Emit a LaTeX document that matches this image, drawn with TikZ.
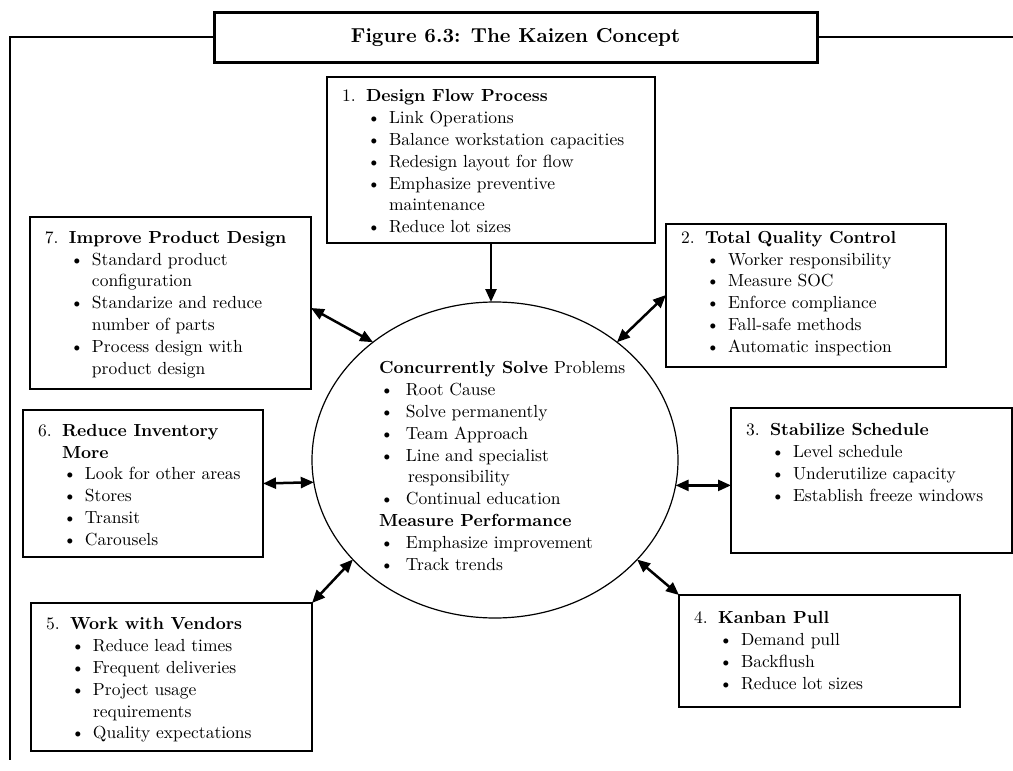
\documentclass[tikz,border=0pt]{standalone}
\usepackage{fontspec}
\setmainfont{lmroman10-regular.otf}[BoldFont=lmroman10-bold.otf]
\usetikzlibrary{shapes.geometric,arrows.meta,calc}
\newcommand\hdl[2]{\makebox[24pt][l]{#1}\textbf{#2}}
\newcommand\hcont[1]{\hspace*{24pt}\textbf{#1}}
\newcommand\itm[1]{\hspace*{25pt}\makebox[22pt][l]{\textbullet}#1}
\newcommand\icont[1]{\hspace*{47pt}#1}
\newcommand\ebl[1]{\hspace*{1pt}\makebox[26pt][l]{\textbullet}#1}
\newcommand\econt[1]{\hspace*{29pt}#1}
\tikzset{
  box/.style={draw, line width=1.5pt, inner sep=0pt, outer sep=0pt, anchor=north west},
  txt/.style={anchor=north west, inner sep=0pt, outer sep=0pt, align=left, font=\fontsize{17.5}{21.8}\selectfont},
  tip/.tip={Triangle[length=13pt,width=11pt]},
  arr/.style={line width=2.5pt, tip-tip},
  arrone/.style={line width=2.5pt, -tip},
  frame/.style={line width=2.5pt},
  titlebox/.style={draw, line width=3pt, inner sep=0pt, outer sep=0pt, minimum width=603pt, minimum height=50pt, font=\bfseries\fontsize{20.2}{24}\selectfont},
  ellbox/.style={draw, ellipse, line width=1.2pt, inner sep=0pt, outer sep=0pt, minimum width=366pt, minimum height=316pt}
}
\begin{document}
\begin{tikzpicture}[x=1pt,y=-1pt]
\useasboundingbox (0,0) rectangle (1013,771);
% title and frame
\node[titlebox] (title) at (515.5,37) {Figure 6.3: The Kaizen Concept};
\coordinate (fbl) at (10,760);
\coordinate (fr) at (1013,37);
\draw[frame] (title.west) -- (title.west -| fbl) -- (fbl);
\draw[frame] (title.east) -- (fr);
% central ellipse
\node[ellbox] (ell) at (495,460) {};
\node[txt] (te) at (379,358.7) {\strut\textbf{Concurrently Solve} Problems\\
 \ebl{Root Cause}\\
 \ebl{Solve permanently}\\
 \ebl{Team Approach}\\
 \ebl{Line and specialist}\\
 \econt{responsibility}\\
 \ebl{Continual education}\\
 \textbf{Measure Performance}\\
 \ebl{Emphasize improvement}\\
 \ebl{Track trends}};
% box 1
\node[box, minimum width=328pt, minimum height=166pt] (b1) at (327,77) {};
\node[txt] (t1) at (342,86.7) {\strut\hdl{1.}{Design Flow Process}\\
 \itm{Link Operations}\\
 \itm{Balance workstation capacities}\\
 \itm{Redesign layout for flow}\\
 \itm{Emphasize preventive}\\
 \icont{maintenance}\\
 \itm{Reduce lot sizes}};
% box 2
\node[box, minimum width=280pt, minimum height=143pt] (b2) at (666,224) {};
\node[txt] (t2) at (681,228) {\strut\hdl{2.}{Total Quality Control}\\
 \itm{Worker responsibility}\\
 \itm{Measure SOC}\\
 \itm{Enforce compliance}\\
 \itm{Fall-safe methods}\\
 \itm{Automatic inspection}};
% box 7
\node[box, minimum width=281pt, minimum height=172pt] (b7) at (30,217) {};
\node[txt] (t7) at (45,228) {\strut\hdl{7.}{Improve Product Design}\\
 \itm{Standard product}\\
 \icont{configuration}\\
 \itm{Standarize and reduce}\\
 \icont{number of parts}\\
 \itm{Process design with}\\
 \icont{product design}};
% box 6
\node[box, minimum width=240pt, minimum height=147pt] (b6) at (23,410) {};
\node[txt] (t6) at (38,421) {\strut\hdl{6.}{Reduce Inventory}\\
 \hcont{More}\\
 \itm{Look for other areas}\\
 \itm{Stores}\\
 \itm{Transit}\\
 \itm{Carousels}};
% box 3
\node[box, minimum width=281pt, minimum height=145pt] (b3) at (731,408) {};
\node[txt] (t3) at (746,420.7) {\strut\hdl{3.}{Stabilize Schedule}\\
 \itm{Level schedule}\\
 \itm{Underutilize capacity}\\
 \itm{Establish freeze windows}};
% box 5
\node[box, minimum width=281pt, minimum height=148pt] (b5) at (31,603) {};
\node[txt] (t5) at (46,614.7) {\strut\hdl{5.}{Work with Vendors}\\
 \itm{Reduce lead times}\\
 \itm{Frequent deliveries}\\
 \itm{Project usage}\\
 \icont{requirements}\\
 \itm{Quality expectations}};
% box 4
\node[box, minimum width=281pt, minimum height=112pt] (b4) at (679,595) {};
\node[txt] (t4) at (694,608.7) {\strut\hdl{4.}{Kanban Pull}\\
 \itm{Demand pull}\\
 \itm{Backflush}\\
 \itm{Reduce lot sizes}};
% connectors
\draw[arrone] (b1.south) -- (b1.south |- ell.north);
\draw[arr] ($(b7.north east)+(0,91)$) -- (ell.136.6);
\draw[arr] (ell.44) -- ($(b2.north west)+(0,71)$);
\draw[arr] (b6.east) -- (ell.187.4);
\draw[arr] (ell.352.8) -- (b3.west |- ell.352.8);
\draw[arr] (ell.215) -- (b5.north east);
\draw[arr] (ell.325.4) -- (b4.north west);
\end{tikzpicture}
\end{document}
